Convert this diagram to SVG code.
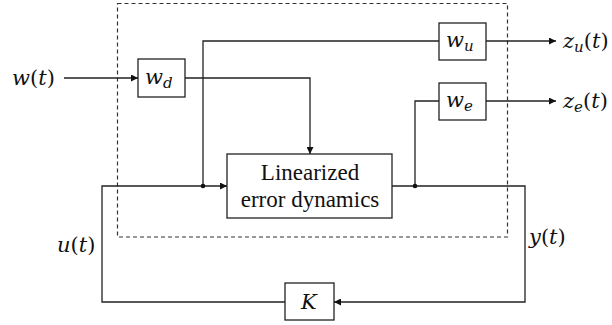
<svg xmlns="http://www.w3.org/2000/svg" width="612" height="325" viewBox="0 0 612 325">
<style>
.ln{fill:none;stroke:#222;stroke-width:1.3}
.bx{fill:#fff;stroke:#222;stroke-width:1.3}
.m{font-family:"DejaVu Serif","Liberation Serif",serif;font-style:italic;font-size:21px;fill:#111}
.up{font-style:normal}
.t{font-family:"Liberation Serif","Times New Roman",serif;font-size:23px;fill:#111;text-anchor:middle}
.sub{font-size:15px}
</style>
<defs>
<marker id="ah" viewBox="0 0 10 10" refX="10" refY="5" markerWidth="7" markerHeight="7" markerUnits="userSpaceOnUse" orient="auto">
<path d="M0,0 L10,5 L0,10 z" fill="#111"/>
</marker>
</defs>
<rect x="117.5" y="3.5" width="390" height="233.5" fill="none" stroke="#333" stroke-width="1.2" stroke-dasharray="4,3"/>
<g id="connectors">
<line class="ln" x1="64" y1="78" x2="138" y2="78" marker-end="url(#ah)"/>
<polyline class="ln" points="185,78 310,78 310,154" marker-end="url(#ah)"/>
<polyline class="ln" points="203,186 203,41 439,41"/>
<line class="ln" x1="486" y1="41" x2="556" y2="41" marker-end="url(#ah)"/>
<line class="ln" x1="486" y1="101" x2="556" y2="101" marker-end="url(#ah)"/>
<polyline class="ln" points="415,186 415,101 439,101"/>
<polyline class="ln" points="392,186 525,186 525,302 334,302" marker-end="url(#ah)"/>
<polyline class="ln" points="285,302 102,302 102,186 227,186" marker-end="url(#ah)"/>
<circle cx="203" cy="186" r="2.3" fill="#111"/>
<circle cx="415" cy="186" r="2.3" fill="#111"/>
</g>
<g id="wd"><rect class="bx" x="138" y="59" width="47" height="38"/><text class="m" x="145" y="84">w<tspan class="sub" dy="4">d</tspan></text></g>
<g id="wu"><rect class="bx" x="439" y="23" width="47" height="37"/><text class="m" x="446" y="47">w<tspan class="sub" dy="4">u</tspan></text></g>
<g id="we"><rect class="bx" x="439" y="83" width="47" height="37"/><text class="m" x="446" y="107">w<tspan class="sub" dy="4">e</tspan></text></g>
<g id="plant"><rect class="bx" x="227" y="154" width="165" height="64"/><text class="t" x="310" y="180">Linearized</text><text class="t" x="310" y="207">error dynamics</text></g>
<g id="K"><rect class="bx" x="285" y="283" width="49" height="37"/><text class="m" x="301" y="309">K</text></g>
<g id="labels">
<text class="m" x="12" y="85">w<tspan class="up">(</tspan>t<tspan class="up">)</tspan></text>
<text class="m" x="563" y="48">z<tspan class="sub" dy="4">u</tspan><tspan dy="-4" class="up">(</tspan>t<tspan class="up">)</tspan></text>
<text class="m" x="563" y="108">z<tspan class="sub" dy="4">e</tspan><tspan dy="-4" class="up">(</tspan>t<tspan class="up">)</tspan></text>
<text class="m" x="57" y="252">u<tspan class="up">(</tspan>t<tspan class="up">)</tspan></text>
<text class="m" x="529" y="244">y<tspan class="up">(</tspan>t<tspan class="up">)</tspan></text>
</g>
</svg>
